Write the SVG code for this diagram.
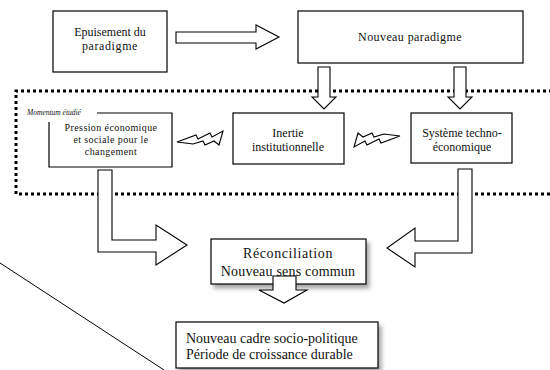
<svg xmlns="http://www.w3.org/2000/svg" width="550" height="370" viewBox="0 0 550 370">
<defs>
<filter id="sh" x="-10%" y="-10%" width="130%" height="140%">
<feDropShadow dx="3" dy="4" stdDeviation="2" flood-color="#000" flood-opacity="0.35"/>
</filter>
</defs>
<style>
.box{fill:#fff;stroke:#000;stroke-width:1.2}
.arr{fill:#fff;stroke:#000;stroke-width:1.1;stroke-linejoin:miter}
.t{font-family:"Liberation Serif","Times New Roman",serif;font-size:12px;fill:#111;text-anchor:middle}
.ts{font-family:"Liberation Serif","Times New Roman",serif;font-size:10px;fill:#111;text-anchor:middle;letter-spacing:0.4px}
.tb{font-family:"Liberation Serif","Times New Roman",serif;font-size:14px;fill:#111;text-anchor:middle}
.tl{font-family:"Liberation Serif","Times New Roman",serif;font-size:14px;fill:#111}
.dot{fill:none;stroke:#000;stroke-width:3;stroke-dasharray:3 3}
</style>
<rect width="550" height="370" fill="#fff"/>
<g id="momentum">
<path class="dot" d="M552,91 H16 V194 H552"/>
<text x="27" y="115" font-family="Liberation Serif, serif" font-style="italic" font-size="7.5" fill="#111">Momentum étudié</text>
</g>
<line x1="0" y1="263" x2="164" y2="370" stroke="#000" stroke-width="1"/>
<g id="epuisement">
<rect class="box" x="53" y="11" width="114" height="61"/>
<text class="t" x="110" y="36">Epuisement du</text>
<text class="t" x="110" y="50" letter-spacing="0.6">paradigme</text>
</g>
<g id="nouveau-paradigme">
<rect class="box" x="298" y="11" width="225" height="52"/>
<text class="t" x="410" y="41" letter-spacing="0.4">Nouveau paradigme</text>
</g>
<g id="pression">
<path class="box" d="M97,113 H172 V167 H49 V122"/>
<text class="ts" x="111" y="131">Pression économique</text>
<text class="ts" x="111" y="143">et sociale pour le</text>
<text class="ts" x="111" y="155">changement</text>
</g>
<g id="inertie">
<rect class="box" x="233" y="113" width="111" height="51"/>
<text class="t" x="288" y="137">Inertie</text>
<text class="t" x="288" y="151">institutionnelle</text>
</g>
<g id="systeme">
<rect class="box" x="411" y="113" width="101" height="50"/>
<text class="t" x="462" y="137">Système techno-</text>
<text class="t" x="462" y="151">économique</text>
</g>
<g id="reconciliation">
<rect class="box" x="211" y="239" width="155" height="45" filter="url(#sh)"/>
<text class="tb" x="288" y="258" letter-spacing="0.6">Réconciliation</text>
<text class="tb" x="288" y="276" letter-spacing="0.2">Nouveau sens commun</text>
</g>
<g id="cadre">
<rect class="box" x="176" y="322" width="202" height="46" filter="url(#sh)"/>
<text class="tl" x="186" y="343">Nouveau cadre socio-politique</text>
<text class="tl" x="186" y="359">Période de croissance durable</text>
</g>
<g id="connectors">
<path class="arr" d="M176,32 H256 V25 L279,37 L256,49 V43 H176 Z"/>
<path class="arr" d="M318,67 H330 V97 H336 L324,109 L312,97 H318 Z"/>
<path class="arr" d="M454,67 H466 V97 H472 L460,109 L448,97 H454 Z"/>
<polygon class="arr" points="177,142 196,135 198,139 210,133 212,137 223,131 219,145 214,141 205,145 203,141 193,144"/>
<polygon class="arr" points="400,136 381,143 379,139 367,145 365,141 354,147 358,133 363,137 372,133 374,137 384,134"/>
<path class="arr" d="M98,170 H112 V240 H156 V225 L187,245 L156,265 V252 H98 Z"/>
<path class="arr" d="M458,169 H472 V253 H415 V267 L387,248 L415,228 V241 H458 Z"/>
<path class="arr" d="M273,276 H296 V290 H307 L284,303 L259,290 H273 Z"/>
</g>
</svg>
